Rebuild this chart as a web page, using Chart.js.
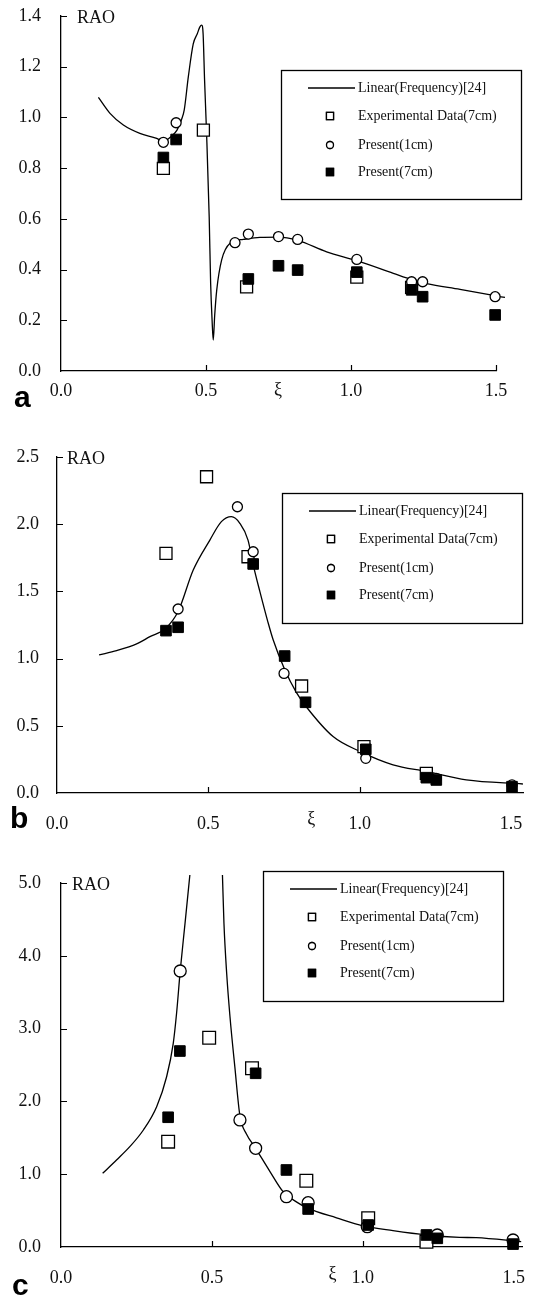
<!DOCTYPE html>
<html>
<head>
<meta charset="utf-8">
<script src="https://cdn.jsdelivr.net/npm/chart.js@4.4.1/dist/chart.umd.min.js"></script>
<style>
  html, body { margin: 0; padding: 0; background: #fff; }
  body { width: 533px; height: 1297px; position: relative; overflow: hidden; }
  canvas { position: absolute; left: 0; display: block; }
</style>
</head>
<body>
<canvas id="panelA" width="533" height="420" style="top:0px"></canvas>
<canvas id="panelB" width="533" height="410" style="top:420px"></canvas>
<canvas id="panelC" width="533" height="467" style="top:830px"></canvas>
<script>
// ---------- Panel (a) ----------
const aLinXi  = [0.129, 0.169, 0.215, 0.272, 0.330, 0.353, 0.380, 0.400, 0.415, 0.425, 0.439, 0.456, 0.470, 0.479, 0.485, 0.490, 0.495, 0.502, 0.511, 0.516, 0.521, 0.525, 0.530, 0.537, 0.554, 0.583, 0.629, 0.686, 0.750, 0.816, 0.916, 1.020, 1.146, 1.210, 1.261, 1.376, 1.491, 1.531];
const aLinRao = [1.079, 1.016, 0.970, 0.937, 0.917, 0.905, 0.925, 0.950, 0.990, 1.030, 1.160, 1.290, 1.330, 1.357, 1.364, 1.330, 1.150, 0.937, 0.608, 0.346, 0.200, 0.122, 0.220, 0.319, 0.438, 0.504, 0.519, 0.527, 0.528, 0.515, 0.470, 0.435, 0.385, 0.360, 0.345, 0.322, 0.298, 0.290];
const aExpXi  = [0.353, 0.491, 0.640, 1.020, 1.209];
const aExpRao = [0.799, 0.950, 0.332, 0.370, 0.330];
const aP1Xi   = [0.353, 0.397, 0.600, 0.646, 0.750, 0.816, 1.020, 1.209, 1.247, 1.497];
const aP1Rao  = [0.902, 0.979, 0.506, 0.540, 0.530, 0.519, 0.440, 0.352, 0.352, 0.293];
const aP7Xi   = [0.353, 0.397, 0.646, 0.750, 0.816, 1.020, 1.209, 1.247, 1.497];
const aP7Rao  = [0.842, 0.913, 0.363, 0.415, 0.398, 0.390, 0.320, 0.293, 0.221];
const aYTicks = [0.0, 0.2, 0.4, 0.6, 0.8, 1.0, 1.2, 1.4];

// ---------- Panel (b) ----------
const bLinXi  = [0.139, 0.197, 0.263, 0.307, 0.359, 0.400, 0.450, 0.505, 0.543, 0.576, 0.604, 0.631, 0.648, 0.670, 0.697, 0.714, 0.750, 0.790, 0.824, 0.912, 1.000, 1.110, 1.220, 1.352, 1.539];
const bLinRao = [1.027, 1.059, 1.109, 1.163, 1.225, 1.350, 1.659, 1.882, 2.019, 2.056, 2.007, 1.882, 1.700, 1.500, 1.270, 1.140, 0.930, 0.750, 0.640, 0.420, 0.310, 0.210, 0.160, 0.097, 0.067];
const bExpXi  = [0.360, 0.494, 0.631, 0.808, 1.014, 1.220];
const bExpRao = [1.783, 2.353, 1.758, 0.796, 0.345, 0.146];
const bP1Xi   = [0.400, 0.596, 0.648, 0.750, 1.020, 1.253, 1.503];
const bP1Rao  = [1.369, 2.130, 1.795, 0.890, 0.258, 0.109, 0.060];
const bP7Xi   = [0.360, 0.400, 0.648, 0.752, 0.821, 1.020, 1.220, 1.253, 1.503];
const bP7Rao  = [1.208, 1.233, 1.704, 1.019, 0.675, 0.325, 0.114, 0.097, 0.047];
const bYTicks = [0.0, 0.5, 1.0, 1.5, 2.0, 2.5];

// ---------- Panel (c) ----------  (null splits the curve at the resonance)
const cLinXi  = [0.138, 0.184, 0.228, 0.273, 0.317, 0.350, 0.372, 0.383, 0.395, 0.411, 0.427, 0.480, 0.535, 0.540, 0.549, 0.560, 0.576, 0.593, 0.615, 0.645, 0.692, 0.736, 0.780, 0.819, 0.913, 1.001, 1.100, 1.211, 1.321, 1.376, 1.525];
const cLinRao = [1.012, 1.195, 1.378, 1.607, 1.927, 2.339, 2.798, 3.210, 3.790, 4.446, 5.110, null, 5.110, 4.446, 3.760, 3.163, 2.477, 1.800, 1.550, 1.356, 1.040, 0.760, 0.620, 0.530, 0.400, 0.290, 0.224, 0.165, 0.133, 0.128, 0.073];
const cExpXi  = [0.355, 0.491, 0.633, 0.813, 1.018, 1.211];
const cExpRao = [1.447, 2.875, 2.455, 0.911, 0.394, 0.073];
const cP1Xi   = [0.395, 0.593, 0.645, 0.747, 0.819, 1.015, 1.247, 1.498];
const cP1Rao  = [3.791, 1.745, 1.356, 0.691, 0.609, 0.279, 0.165, 0.096];
const cP7Xi   = [0.355, 0.394, 0.645, 0.747, 0.819, 1.018, 1.211, 1.247, 1.498];
const cP7Rao  = [1.782, 2.692, 2.386, 1.058, 0.522, 0.302, 0.165, 0.119, 0.040];
const cYTicks = [0.0, 1.0, 2.0, 3.0, 4.0, 5.0];

const xiTicks = [0.0, 0.5, 1.0, 1.5];
const seriesNames = ['Linear(Frequency)[24]', 'Experimental Data(7cm)', 'Present(1cm)', 'Present(7cm)'];

const SERIF = '"Liberation Serif", "Times New Roman", Times, serif';
const SANS = '"Liberation Sans", Arial, Helvetica, sans-serif';

function pairs(xs, ys) {
  return xs.map((x, i) => ({ x: x, y: ys[i] }));
}

// Inward ticks, the "RAO" caption, the ξ caption, the boxed legend and the panel letter.
const panelDecor = {
  id: 'panelDecor',
  afterDraw(chart, args, o) {
    const { ctx, chartArea: ca, scales: { x, y } } = chart;
    ctx.save();
    ctx.strokeStyle = '#000';
    ctx.lineWidth = 1.2;
    ctx.beginPath();
    y.ticks.forEach(t => {
      if (t.value === 0) return;
      const py = Math.round(y.getPixelForValue(t.value)) + 0.5;
      ctx.moveTo(ca.left, py);
      ctx.lineTo(ca.left + 6, py);
    });
    x.ticks.forEach(t => {
      if (t.value === 0) return;
      const px = Math.round(x.getPixelForValue(t.value)) + 0.5;
      ctx.moveTo(px, ca.bottom);
      ctx.lineTo(px, ca.bottom - 6);
    });
    ctx.stroke();

    ctx.fillStyle = '#111';
    ctx.font = '18px ' + SERIF;
    ctx.textBaseline = 'middle';
    ctx.textAlign = 'left';
    ctx.fillText('RAO', ca.left + o.raoDx, ca.top + 2);

    ctx.textAlign = 'center';
    ctx.textBaseline = 'top';
    ctx.fillText('ξ', x.getPixelForValue(o.xiAt), ca.bottom + o.xiDy);

    // legend
    const L = o.legend;
    ctx.lineWidth = 1.3;
    ctx.strokeStyle = '#000';
    ctx.strokeRect(L.x + 0.5, L.y + 0.5, L.w, L.h);
    const rows = [18, 46, 75, 102];
    ctx.font = '14px ' + SERIF;
    ctx.textAlign = 'left';
    ctx.textBaseline = 'middle';
    chart.data.datasets.forEach((ds, i) => {
      const ry = L.y + rows[i];
      const mx = L.x + 49;
      ctx.lineWidth = 1.3;
      if (ds.showLine) {
        ctx.beginPath();
        ctx.moveTo(L.x + 27, ry);
        ctx.lineTo(L.x + 74, ry);
        ctx.stroke();
      } else {
        Chart.helpers.drawPoint(ctx, {
          pointStyle: ds.pointStyle,
          radius: ds.pointStyle === 'circle' ? 3.5 : 5,
          borderWidth: 1.6,
          rotation: 0
        }, mx, ry);
        ctx.fillStyle = ds.backgroundColor;
        ctx.fill();
        ctx.stroke();
      }
      ctx.fillStyle = '#111';
      ctx.fillText(ds.label, L.x + 77, ry);
    });

    // panel letter
    ctx.font = 'bold 30px ' + SANS;
    ctx.textBaseline = 'alphabetic';
    ctx.textAlign = 'left';
    ctx.fillStyle = '#000';
    ctx.fillText(o.tag, o.tagX, o.tagY);
    ctx.restore();
  }
};

function buildPanel(id, p) {
  const axisFont = { family: SERIF, size: 18 };
  return new Chart(document.getElementById(id), {
    type: 'scatter',
    data: {
      datasets: [
        { label: seriesNames[0], data: pairs(p.lin[0], p.lin[1]), showLine: true, spanGaps: false,
          borderColor: '#000', backgroundColor: '#000', borderWidth: 1.3, pointRadius: 0,
          cubicInterpolationMode: 'monotone', clip: false, order: 4 },
        { label: seriesNames[1], data: pairs(p.exp[0], p.exp[1]), pointStyle: 'rect', pointRadius: p.sq,
          backgroundColor: '#fff', borderColor: '#000', borderWidth: 1.3, clip: false, order: 3 },
        { label: seriesNames[2], data: pairs(p.p1[0], p.p1[1]), pointStyle: 'circle', pointRadius: p.circ,
          backgroundColor: '#fff', borderColor: '#000', borderWidth: 1.3, clip: false, order: 2 },
        { label: seriesNames[3], data: pairs(p.p7[0], p.p7[1]), pointStyle: 'rect', pointRadius: p.fsq,
          backgroundColor: '#000', borderColor: '#000', borderWidth: 1, clip: false, order: 1 }
      ]
    },
    options: {
      responsive: false,
      animation: false,
      devicePixelRatio: 1,
      events: [],
      layout: { padding: p.pad },
      plugins: {
        legend: { display: false },
        tooltip: { enabled: false },
        panelDecor: p.decor
      },
      scales: {
        x: {
          type: 'linear', min: 0, max: p.xMax,
          grid: { display: false, drawTicks: false },
          border: { display: true, color: '#000', width: 1.3 },
          ticks: { padding: p.xPad, font: axisFont, color: '#111', autoSkip: false, maxRotation: 0,
                   callback: v => Number(v).toFixed(1) },
          afterBuildTicks: s => { s.ticks = xiTicks.map(v => ({ value: v })); },
          afterFit: s => { s.height = 44; s.paddingLeft = 0; s.paddingRight = 0; }
        },
        y: {
          type: 'linear', min: 0, max: p.yMax,
          grid: { display: false, drawTicks: false },
          border: { display: true, color: '#000', width: 1.3 },
          ticks: { padding: p.yPad, font: axisFont, color: '#111', autoSkip: false,
                   callback: v => Number(v).toFixed(1) },
          afterBuildTicks: s => { s.ticks = p.yTicks.map(v => ({ value: v })); },
          afterFit: s => { s.width = p.left; s.paddingTop = 0; s.paddingBottom = 0; }
        }
      }
    },
    plugins: [panelDecor]
  });
}

buildPanel('panelA', {
  lin: [aLinXi, aLinRao], exp: [aExpXi, aExpRao], p1: [aP1Xi, aP1Rao], p7: [aP7Xi, aP7Rao],
  yTicks: aYTicks, yMax: 1.4, xMax: 1.5, left: 61,
  pad: { left: 0, right: 37, top: 16, bottom: 5 },
  xPad: 9, yPad: 20, sq: 8.5, circ: 5, fsq: 7.5,
  decor: { raoDx: 16, xiAt: 0.748, xiDy: 10, tag: 'a', tagX: 14, tagY: 407,
           legend: { x: 281, y: 70, w: 240, h: 129 } }
});

buildPanel('panelB', {
  lin: [bLinXi, bLinRao], exp: [bExpXi, bExpRao], p1: [bP1Xi, bP1Rao], p7: [bP7Xi, bP7Rao],
  yTicks: bYTicks, yMax: 2.5, xMax: 1.54, left: 57,
  pad: { left: 0, right: 9, top: 37, bottom: -7 },
  xPad: 20, yPad: 18, sq: 8.5, circ: 5, fsq: 7.5,
  decor: { raoDx: 10, xiAt: 0.84, xiDy: 17, tag: 'b', tagX: 10, tagY: 408,
           legend: { x: 282, y: 73, w: 240, h: 130 } }
});

buildPanel('panelC', {
  lin: [cLinXi, cLinRao], exp: [cExpXi, cExpRao], p1: [cP1Xi, cP1Rao], p7: [cP7Xi, cP7Rao],
  yTicks: cYTicks, yMax: 5.0, xMax: 1.53, left: 61,
  pad: { left: 0, right: 10, top: 53, bottom: 6 },
  xPad: 20, yPad: 20, sq: 9, circ: 6, fsq: 7.5,
  decor: { raoDx: 11, xiAt: 0.90, xiDy: 18, tag: 'c', tagX: 12, tagY: 465,
           legend: { x: 263, y: 41, w: 240, h: 130 } }
});
</script>
</body>
</html>
